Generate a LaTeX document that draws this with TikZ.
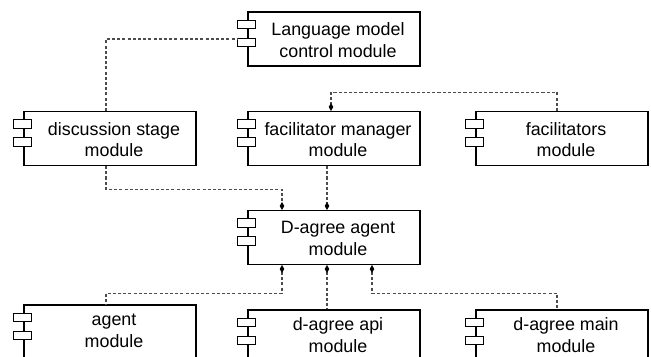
\documentclass[tikz,border=0pt]{standalone}
\usepackage{fontspec}
\setmainfont{Liberation Sans}
\usetikzlibrary{calc,arrows.meta}
\tikzset{
  compbox/.style={draw=black, line width=0.8pt, minimum width=129pt, minimum height=40.5pt, inner sep=0pt},
  complbl/.style={align=center, font=\fontsize{13.4pt}{16.2pt}\selectfont, inner sep=0pt},
  tab/.style={draw=black, line width=0.75pt, fill=white},
  conn/.style={draw=black!70, line width=0.8pt, dash pattern=on 2.3pt off 1.6pt},
  endd/.style={-{Diamond[length=6pt,width=3.4pt,color=black,fill=black]}},
  startd/.style={{Diamond[length=6pt,width=3.4pt,color=black,fill=black]}-}
}
\newcommand{\umlcomp}[5]{%
  \node[compbox] (#1) at (#2,#3) {};
  \draw[tab] ($(#1.north west)+(-10,9)$) rectangle ($(#1.north west)+(8.5,17.5)$);
  \draw[tab] ($(#1.north west)+(-10,27)$) rectangle ($(#1.north west)+(8.5,35.5)$);
  \node[complbl] (#1-t) at ($(#1.center)+(4,#4)$) {#5};
}
\begin{document}
\begin{tikzpicture}[x=0.75pt,y=-0.75pt]
\useasboundingbox (0,0) rectangle (651,357);
\clip (0,0) rectangle (651,357);
\umlcomp{lmc}{334}{39}{1}{Language model\\control module}
\umlcomp{dsm}{110}{138.5}{1}{discussion stage\\module}
\umlcomp{fmm}{334}{138.5}{1}{facilitator manager\\module}
\umlcomp{fac}{562}{138.5}{1}{facilitators\\module}
\umlcomp{dag}{334}{237.5}{1}{D-agree agent\\module}
\umlcomp{agt}{110}{332}{-1}{agent\\module}
\umlcomp{api}{334}{337}{-2}{d-agree api\\module}
\umlcomp{mai}{562}{337}{-2}{d-agree main\\module}
% connectors
\draw[conn] ($(dsm.north)+(-4,0)$) |- ($(lmc.north west)+(-10,27.5)$);
\draw[conn,endd] ($(fac.north)+(-5,0)$) -- ++(0,-18.7) -| ($(fmm.north)+(-3,0)$);
\draw[conn,endd] ($(dsm.south)+(-4,0)$) -- ++(0,23) -| ($(dag.north)+(-52,0)$);
\draw[conn,endd] ($(fmm.south)+(-7,0)$) -- ($(dag.north)+(-7,0)$);
\draw[conn,startd] ($(dag.south)+(-52,0)$) -- ++(0,28) -| ($(agt.north)+(-4,0)$);
\draw[conn,startd] ($(dag.south)+(-7,0)$) -- ($(api.north)+(-7,0)$);
\draw[conn,startd] ($(dag.south)+(38,0)$) -- ++(0,28) -| ($(mai.north)+(-5,0)$);
\end{tikzpicture}
\end{document}
